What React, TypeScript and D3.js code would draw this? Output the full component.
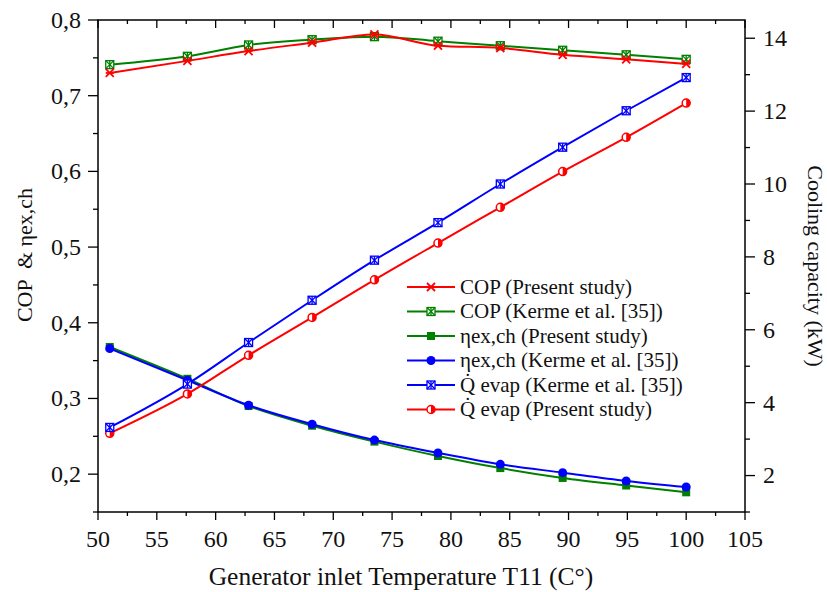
import React from 'react';
import * as d3 from 'd3';

// generator inlet temperature (°C)
const temps = [51, 57.6, 62.8, 68.2, 73.5, 78.9, 84.2, 89.5, 94.9, 100];

const copPresent = [0.730, 0.746, 0.759, 0.770, 0.781, 0.766, 0.763, 0.754, 0.748, 0.742];
const copKerme = [0.741, 0.752, 0.767, 0.774, 0.778, 0.772, 0.766, 0.760, 0.754, 0.748];
const etaPresent = [0.368, 0.326, 0.290, 0.264, 0.243, 0.224, 0.208, 0.195, 0.185, 0.176];
const etaKerme = [0.366, 0.324, 0.291, 0.266, 0.245, 0.228, 0.213, 0.202, 0.191, 0.183];
const qKerme = [3.32, 4.51, 5.65, 6.81, 7.91, 8.94, 10.0, 11.01, 12.01, 12.92];
const qPresent = [3.16, 4.24, 5.30, 6.34, 7.37, 8.38, 9.36, 10.34, 11.28, 12.22];

const xTicks = [50, 55, 60, 65, 70, 75, 80, 85, 90, 95, 100, 105];
const leftTicks = [0.2, 0.3, 0.4, 0.5, 0.6, 0.7, 0.8];
const rightTicks = [2, 4, 6, 8, 10, 12, 14];

const RED = '#ff0000';
const GREEN = '#008000';
const BLUE = '#0000ff';
const FONT = '"Liberation Serif"';

const series = [
  { name: 'COP (Present study)', values: copPresent, axis: 'left', color: RED, marker: 'star' },
  { name: 'COP (Kerme et al. [35])', values: copKerme, axis: 'left', color: GREEN, marker: 'boxx' },
  { name: 'ηex,ch (Present study)', values: etaPresent, axis: 'left', color: GREEN, marker: 'square' },
  { name: 'ηex,ch (Kerme et al. [35])', values: etaKerme, axis: 'left', color: BLUE, marker: 'circle' },
  { name: 'Q̇ evap (Kerme et al. [35])', values: qKerme, axis: 'right', color: BLUE, marker: 'boxx' },
  { name: 'Q̇ evap (Present study)', values: qPresent, axis: 'right', color: RED, marker: 'half' },
];
const drawOrder = [1, 0, 2, 3, 5, 4];

const W = 827, H = 592;
const L = 98, R = 745, T = 20, B = 512;

const x = d3.scaleLinear().domain([50, 105]).range([L, R]);
const yL = d3.scaleLinear().domain([0.15, 0.8]).range([B, T]);
const yR = d3.scaleLinear().domain([1, 14.5]).range([B, T]);

const Txt = (props) => <text fontFamily={FONT} fill="#111" {...props} />;

function Marker({ kind, cx, cy, color }) {
  const r = 4;
  if (kind === 'star') {
    return (
      <g stroke={color} strokeWidth={1.8}>
        <line x1={cx - r} y1={cy - r} x2={cx + r} y2={cy + r} />
        <line x1={cx - r} y1={cy + r} x2={cx + r} y2={cy - r} />
        <line x1={cx - r} y1={cy} x2={cx + r} y2={cy} />
      </g>
    );
  }
  if (kind === 'boxx') {
    return (
      <g stroke={color} strokeWidth={1.3} fill="white">
        <rect x={cx - r} y={cy - r} width={2 * r} height={2 * r} />
        <line x1={cx - r} y1={cy - r} x2={cx + r} y2={cy + r} />
        <line x1={cx - r} y1={cy + r} x2={cx + r} y2={cy - r} />
        <line x1={cx} y1={cy - r} x2={cx} y2={cy + r} />
      </g>
    );
  }
  if (kind === 'square') {
    return <rect x={cx - r} y={cy - r} width={2 * r} height={2 * r} fill={color} />;
  }
  if (kind === 'circle') {
    return <circle cx={cx} cy={cy} r={r + 0.5} fill={color} />;
  }
  // half filled circle
  return (
    <g>
      <circle cx={cx} cy={cy} r={r} fill="white" stroke={color} strokeWidth={1.5} />
      <path d={`M${cx},${cy - r} A${r},${r} 0 0 1 ${cx},${cy + r} Z`} fill={color} />
    </g>
  );
}

export default function App() {
  const minorX = d3.range(52.5, 105, 5);
  const minorL = d3.range(0.15, 0.8, 0.1).map(v => +v.toFixed(2));
  const minorR = d3.range(1, 14.5, 2);

  return (
    <svg width={W} height={H} style={{ display: 'block', position: 'absolute', left: 0, top: 0 }}>
      <rect width={W} height={H} fill="white" />

      {/* series */}
      {drawOrder.map(i => {
        const s = series[i];
        const y = s.axis === 'left' ? yL : yR;
        const line = d3.line<number>()
          .x((_, j) => x(temps[j]))
          .y(v => y(v))
          .curve(d3.curveMonotoneX);
        return (
          <g key={s.name}>
            <path d={line(s.values)} fill="none" stroke={s.color} strokeWidth={2} />
            {s.values.map((v, j) => (
              <Marker key={j} kind={s.marker} cx={x(temps[j])} cy={y(v)} color={s.color} />
            ))}
          </g>
        );
      })}

      {/* frame */}
      <rect x={L} y={T} width={R - L} height={B - T} fill="none" stroke="black" strokeWidth={1.5} />

      {/* bottom + top axis */}
      {xTicks.map(t => (
        <g key={'xb' + t}>
          <line x1={x(t)} x2={x(t)} y1={B} y2={B + 8} stroke="black" strokeWidth={1.3} />
          <line x1={x(t)} x2={x(t)} y1={T} y2={T + 8} stroke="black" strokeWidth={1.3} />
          <Txt x={x(t)} y={547} textAnchor="middle" fontSize={24}>{t}</Txt>
        </g>
      ))}
      {minorX.map(t => (
        <g key={'xm' + t}>
          <line x1={x(t)} x2={x(t)} y1={B} y2={B + 4} stroke="black" strokeWidth={1.3} />
          <line x1={x(t)} x2={x(t)} y1={T} y2={T + 4} stroke="black" strokeWidth={1.3} />
        </g>
      ))}

      {/* left axis */}
      {leftTicks.map(t => (
        <g key={'yl' + t}>
          <line x1={L - 10} x2={L} y1={yL(t)} y2={yL(t)} stroke="black" strokeWidth={1.3} />
          <Txt x={81} y={yL(t)} dy="0.33em" textAnchor="end" fontSize={24}>{t.toFixed(1).replace('.', ',')}</Txt>
        </g>
      ))}
      {minorL.map(t => (
        <line key={'ylm' + t} x1={L - 5} x2={L} y1={yL(t)} y2={yL(t)} stroke="black" strokeWidth={1.3} />
      ))}

      {/* right axis */}
      {rightTicks.map(t => (
        <g key={'yr' + t}>
          <line x1={R} x2={R + 10} y1={yR(t)} y2={yR(t)} stroke="black" strokeWidth={1.3} />
          <Txt x={763} y={yR(t)} dy="0.33em" textAnchor="start" fontSize={24}>{t}</Txt>
        </g>
      ))}
      {minorR.map(t => (
        <line key={'yrm' + t} x1={R} x2={R + 5} y1={yR(t)} y2={yR(t)} stroke="black" strokeWidth={1.3} />
      ))}

      {/* axis titles */}
      <Txt x={401} y={585} textAnchor="middle" fontSize={25.5}>Generator inlet Temperature T11 (C°)</Txt>
      <Txt transform={`translate(32, 255) rotate(-90)`} textAnchor="middle" fontSize={22} style={{ whiteSpace: 'pre' }}>COP  &amp; ηex,ch</Txt>
      <Txt transform={`translate(808, ${(T + B) / 2}) rotate(90)`} textAnchor="middle" fontSize={22}>Cooling capacity (kW)</Txt>

      {/* legend */}
      {series.map((s, i) => {
        const ly = 287 + i * 24.5;
        return (
          <g key={'lg' + i}>
            <line x1={407} x2={455} y1={ly} y2={ly} stroke={s.color} strokeWidth={2} />
            <Marker kind={s.marker} cx={431} cy={ly} color={s.color} />
            <Txt x={460} y={ly} dy="0.33em" fontSize={21}>{s.name}</Txt>
          </g>
        );
      })}
    </svg>
  );
}
